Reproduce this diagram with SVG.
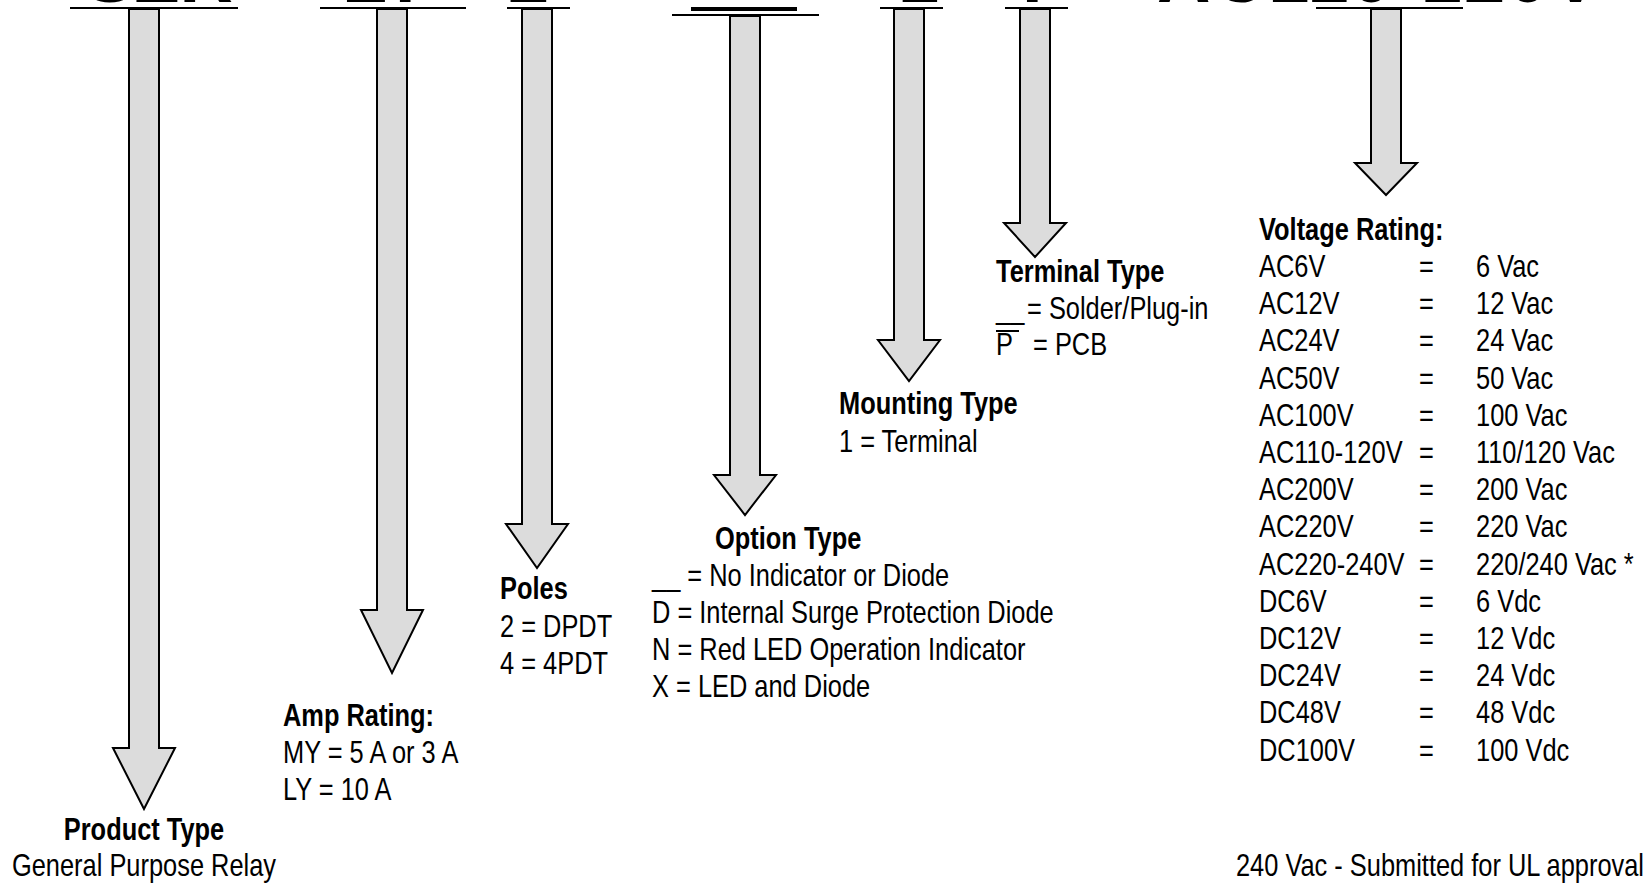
<svg xmlns="http://www.w3.org/2000/svg" width="1649" height="883" viewBox="0 0 1649 883">
<style>
.t{font-family:"Liberation Sans",Arial,sans-serif;font-size:31px;fill:#000}
.b{font-weight:bold}
.m{text-anchor:middle}
.big{font-family:"Liberation Sans",Arial,sans-serif;font-weight:bold;font-size:74px;fill:#000}
.arr{fill:#dcdcdc;stroke:#000;stroke-width:2;stroke-linejoin:miter}
.ul{stroke:#000;stroke-width:2}
</style>
<rect width="1649" height="883" fill="#fff"/>
<g id="title">
<text class="big" x="85" y="2">SZR</text>
<text class="big" x="342" y="2">LY</text>
<text class="big" x="508" y="2">2</text>
<text class="big" x="898" y="2">1</text>
<text class="big" x="1022" y="2">P</text>
<text class="big" x="1157" y="2" textLength="443">AC110-120V</text>
<rect x="691" y="7" width="106" height="4" fill="#000"/>
</g>
<g id="connectors">
<line class="ul" x1="70" y1="8" x2="238" y2="8"/>
<line class="ul" x1="320" y1="8" x2="466" y2="8"/>
<line class="ul" x1="507" y1="8" x2="570" y2="8"/>
<line class="ul" x1="672" y1="15" x2="819" y2="15"/>
<line class="ul" x1="880" y1="8" x2="943" y2="8"/>
<line class="ul" x1="1005" y1="8" x2="1068" y2="8"/>
<line class="ul" x1="1316" y1="8" x2="1463" y2="8"/>
<path class="arr" d="M129,9 V748 H113 L144,809 L175,748 H159 V9 Z"/>
<path class="arr" d="M377,9 V610 H361 L392,673 L423,610 H407 V9 Z"/>
<path class="arr" d="M522,9 V524 H506 L537,568 L568,524 H552 V9 Z"/>
<path class="arr" d="M730,16 V475 H714 L745,515 L776,475 H760 V16 Z"/>
<path class="arr" d="M894,9 V340 H878 L909,381 L940,340 H924 V9 Z"/>
<path class="arr" d="M1020,9 V223 H1004 L1035,257 L1066,223 H1050 V9 Z"/>
<path class="arr" d="M1371,9 V163 H1355 L1386,195 L1417,163 H1401 V9 Z"/>
</g>
<g id="product">
<text class="t b m" transform="translate(144 840) scale(0.82 1)">Product Type</text>
<text class="t m" transform="translate(144 876) scale(0.82 1)">General Purpose Relay</text>
</g>
<g id="amp">
<text class="t b" transform="translate(283 726) scale(0.82 1)">Amp Rating:</text>
<text class="t" transform="translate(283 763) scale(0.82 1)">MY = 5 A or 3 A</text>
<text class="t" transform="translate(283 800) scale(0.82 1)">LY = 10 A</text>
</g>
<g id="poles">
<text class="t b" transform="translate(500 599) scale(0.82 1)">Poles</text>
<text class="t" transform="translate(500 637) scale(0.82 1)">2 = DPDT</text>
<text class="t" transform="translate(500 674) scale(0.82 1)">4 = 4PDT</text>
</g>
<g id="option">
<text class="t b" transform="translate(715 549) scale(0.82 1)">Option Type</text>
<text class="t" transform="translate(652 586) scale(0.82 1)">__ = No Indicator or Diode</text>
<text class="t" transform="translate(652 623) scale(0.82 1)">D = Internal Surge Protection Diode</text>
<text class="t" transform="translate(652 660) scale(0.82 1)">N = Red LED Operation Indicator</text>
<text class="t" transform="translate(652 697) scale(0.82 1)">X = LED and Diode</text>
</g>
<g id="mounting">
<text class="t b" transform="translate(839 414) scale(0.82 1)">Mounting Type</text>
<text class="t" transform="translate(839 452) scale(0.82 1)">1 = Terminal</text>
</g>
<g id="terminal">
<text class="t b" transform="translate(996 282) scale(0.82 1)">Terminal Type</text>
<text class="t" transform="translate(996 319) scale(0.82 1)">__</text>
<text class="t" transform="translate(1027 319) scale(0.82 1)">= Solder/Plug-in</text>
<line class="ul" x1="996" y1="331" x2="1019" y2="331"/>
<text class="t" transform="translate(996 355) scale(0.82 1)">P</text>
<text class="t" transform="translate(1033 355) scale(0.82 1)">= PCB</text>
</g>
<g id="voltage">
<text class="t b" transform="translate(1259 240) scale(0.82 1)">Voltage Rating:</text>
<text class="t" transform="translate(1259 277) scale(0.82 1)">AC6V</text><text class="t" transform="translate(1419 277) scale(0.82 1)">=</text><text class="t" transform="translate(1476 277) scale(0.82 1)">6 Vac</text>
<text class="t" transform="translate(1259 314) scale(0.82 1)">AC12V</text><text class="t" transform="translate(1419 314) scale(0.82 1)">=</text><text class="t" transform="translate(1476 314) scale(0.82 1)">12 Vac</text>
<text class="t" transform="translate(1259 351) scale(0.82 1)">AC24V</text><text class="t" transform="translate(1419 351) scale(0.82 1)">=</text><text class="t" transform="translate(1476 351) scale(0.82 1)">24 Vac</text>
<text class="t" transform="translate(1259 389) scale(0.82 1)">AC50V</text><text class="t" transform="translate(1419 389) scale(0.82 1)">=</text><text class="t" transform="translate(1476 389) scale(0.82 1)">50 Vac</text>
<text class="t" transform="translate(1259 426) scale(0.82 1)">AC100V</text><text class="t" transform="translate(1419 426) scale(0.82 1)">=</text><text class="t" transform="translate(1476 426) scale(0.82 1)">100 Vac</text>
<text class="t" transform="translate(1259 463) scale(0.82 1)">AC110-120V</text><text class="t" transform="translate(1419 463) scale(0.82 1)">=</text><text class="t" transform="translate(1476 463) scale(0.82 1)">110/120 Vac</text>
<text class="t" transform="translate(1259 500) scale(0.82 1)">AC200V</text><text class="t" transform="translate(1419 500) scale(0.82 1)">=</text><text class="t" transform="translate(1476 500) scale(0.82 1)">200 Vac</text>
<text class="t" transform="translate(1259 537) scale(0.82 1)">AC220V</text><text class="t" transform="translate(1419 537) scale(0.82 1)">=</text><text class="t" transform="translate(1476 537) scale(0.82 1)">220 Vac</text>
<text class="t" transform="translate(1259 575) scale(0.82 1)">AC220-240V</text><text class="t" transform="translate(1419 575) scale(0.82 1)">=</text><text class="t" transform="translate(1476 575) scale(0.82 1)">220/240 Vac *</text>
<text class="t" transform="translate(1259 612) scale(0.82 1)">DC6V</text><text class="t" transform="translate(1419 612) scale(0.82 1)">=</text><text class="t" transform="translate(1476 612) scale(0.82 1)">6 Vdc</text>
<text class="t" transform="translate(1259 649) scale(0.82 1)">DC12V</text><text class="t" transform="translate(1419 649) scale(0.82 1)">=</text><text class="t" transform="translate(1476 649) scale(0.82 1)">12 Vdc</text>
<text class="t" transform="translate(1259 686) scale(0.82 1)">DC24V</text><text class="t" transform="translate(1419 686) scale(0.82 1)">=</text><text class="t" transform="translate(1476 686) scale(0.82 1)">24 Vdc</text>
<text class="t" transform="translate(1259 723) scale(0.82 1)">DC48V</text><text class="t" transform="translate(1419 723) scale(0.82 1)">=</text><text class="t" transform="translate(1476 723) scale(0.82 1)">48 Vdc</text>
<text class="t" transform="translate(1259 761) scale(0.82 1)">DC100V</text><text class="t" transform="translate(1419 761) scale(0.82 1)">=</text><text class="t" transform="translate(1476 761) scale(0.82 1)">100 Vdc</text>
</g>
<g id="note">
<text class="t" text-anchor="end" transform="translate(1644 876) scale(0.82 1)">240 Vac - Submitted for UL approval</text>
</g>
</svg>
